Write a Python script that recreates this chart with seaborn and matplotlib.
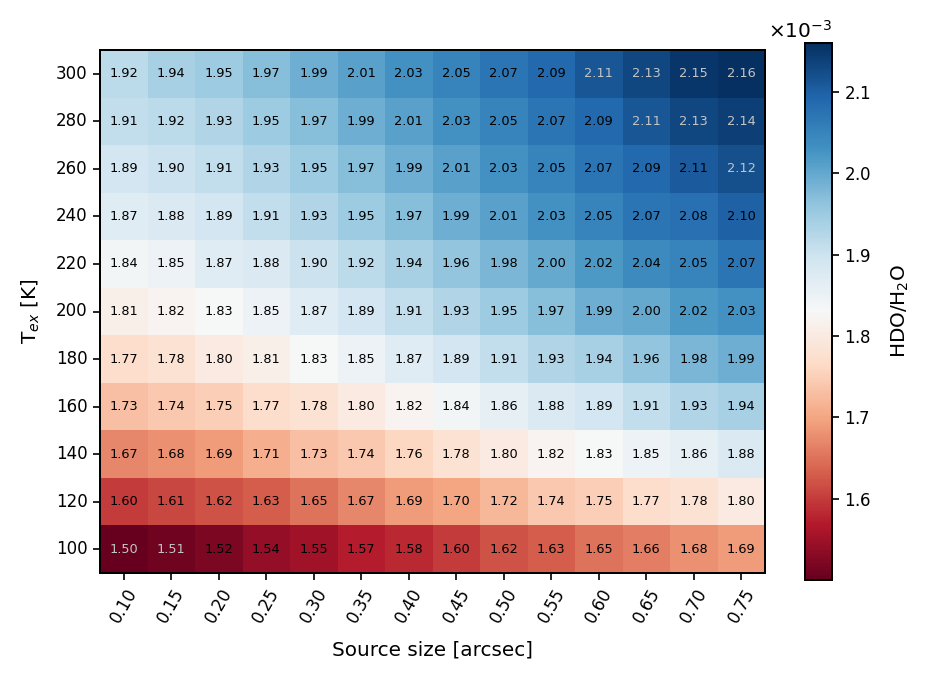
import numpy as np
import pandas as pd
import matplotlib
matplotlib.use("Agg")
import matplotlib.pyplot as plt
import seaborn as sns
from matplotlib.ticker import ScalarFormatter

sizes = ["0.10", "0.15", "0.20", "0.25", "0.30", "0.35", "0.40",
         "0.45", "0.50", "0.55", "0.60", "0.65", "0.70", "0.75"]
temps = [300, 280, 260, 240, 220, 200, 180, 160, 140, 120, 100]

# HDO/H2O in units of 1e-3 (rows: Tex from 300 K down to 100 K)
row_300 = [1.92, 1.94, 1.95, 1.97, 1.99, 2.01, 2.03, 2.05, 2.07, 2.09, 2.112, 2.13, 2.15, 2.16]
row_280 = [1.91, 1.92, 1.93, 1.95, 1.97, 1.99, 2.01, 2.03, 2.05, 2.07, 2.09, 2.112, 2.13, 2.14]
row_260 = [1.89, 1.90, 1.91, 1.93, 1.95, 1.97, 1.99, 2.01, 2.03, 2.05, 2.07, 2.09, 2.108, 2.12]
row_240 = [1.87, 1.88, 1.89, 1.91, 1.93, 1.95, 1.97, 1.99, 2.01, 2.03, 2.05, 2.07, 2.08, 2.10]
row_220 = [1.84, 1.85, 1.87, 1.88, 1.90, 1.92, 1.94, 1.96, 1.98, 2.00, 2.02, 2.04, 2.05, 2.07]
row_200 = [1.81, 1.82, 1.83, 1.85, 1.87, 1.89, 1.91, 1.93, 1.95, 1.97, 1.99, 2.00, 2.02, 2.03]
row_180 = [1.77, 1.78, 1.80, 1.81, 1.83, 1.85, 1.87, 1.89, 1.91, 1.93, 1.94, 1.96, 1.98, 1.99]
row_160 = [1.73, 1.74, 1.75, 1.77, 1.78, 1.80, 1.82, 1.84, 1.86, 1.88, 1.89, 1.91, 1.93, 1.94]
row_140 = [1.67, 1.68, 1.69, 1.71, 1.73, 1.74, 1.76, 1.78, 1.80, 1.82, 1.83, 1.85, 1.86, 1.88]
row_120 = [1.60, 1.61, 1.62, 1.63, 1.65, 1.67, 1.69, 1.70, 1.72, 1.74, 1.75, 1.77, 1.78, 1.80]
row_100 = [1.50, 1.51, 1.52, 1.54, 1.55, 1.57, 1.58, 1.60, 1.62, 1.63, 1.65, 1.66, 1.68, 1.69]

rows = [row_300, row_280, row_260, row_240, row_220, row_200,
        row_180, row_160, row_140, row_120, row_100]
vals = np.array(rows) * 1e-3
df = pd.DataFrame(vals, index=temps, columns=sizes)

sns.set_style("ticks", {"text.color": "black", "axes.labelcolor": "black",
                        "xtick.color": "black", "ytick.color": "black",
                        "axes.edgecolor": "black"})
plt.rcParams["font.family"] = ["DejaVu Sans"]

fig = plt.figure(figsize=(927 / 120, 679 / 120), dpi=120)
ax = fig.add_axes([100 / 927, 1 - 573 / 679, 665 / 927, 523 / 679])
cax = fig.add_axes([805 / 927, 1 - 580 / 679, 27 / 927, 537 / 679])

sns.heatmap(df, ax=ax, cbar_ax=cax, cmap="RdBu", annot=False,
            vmin=vals.min(), vmax=vals.max(), linewidths=0)

lo = 1.515e-3
hi = 2.11e-3
for i in range(vals.shape[0]):
    for j in range(vals.shape[1]):
        v = vals[i, j]
        col = "#c4c4c4" if (v < lo or v > hi) else "black"
        ax.text(j + 0.5, i + 0.5, f"{v * 1e3:.2f}", ha="center", va="center",
                fontsize=7.7, color=col)

for sp in ax.spines.values():
    sp.set_visible(True)
    sp.set_linewidth(1.2)
    sp.set_color("black")

ax.tick_params(axis="both", labelsize=10, length=4, width=1, color="black",
               labelcolor="black")
ax.set_xticklabels(sizes, rotation=60, ha="center")
ax.set_yticklabels([str(t) for t in temps], rotation=0)
ax.set_xlabel("Source size [arcsec]", fontsize=12, color="black", labelpad=8.5)
ax.set_ylabel("T$_{ex}$ [K]", fontsize=12, color="black", labelpad=8)

cb = ax.collections[0].colorbar
fmt = ScalarFormatter(useMathText=True)
fmt.set_powerlimits((0, 0))
cb.ax.yaxis.set_major_formatter(fmt)
cb.set_ticks([1.6e-3, 1.7e-3, 1.8e-3, 1.9e-3, 2.0e-3, 2.1e-3])
cb.ax.tick_params(labelsize=10, length=4, width=1, color="black",
                  labelcolor="black")
cb.ax.yaxis.get_offset_text().set_fontsize(12)
cb.ax.yaxis.get_offset_text().set_color("black")
cb.outline.set_visible(True)
cb.outline.set_edgecolor("black")
cb.outline.set_linewidth(1.2)
cb.set_label("HDO/H$_2$O", fontsize=12, color="black", labelpad=11)

fig.savefig("out.png", dpi=120)
